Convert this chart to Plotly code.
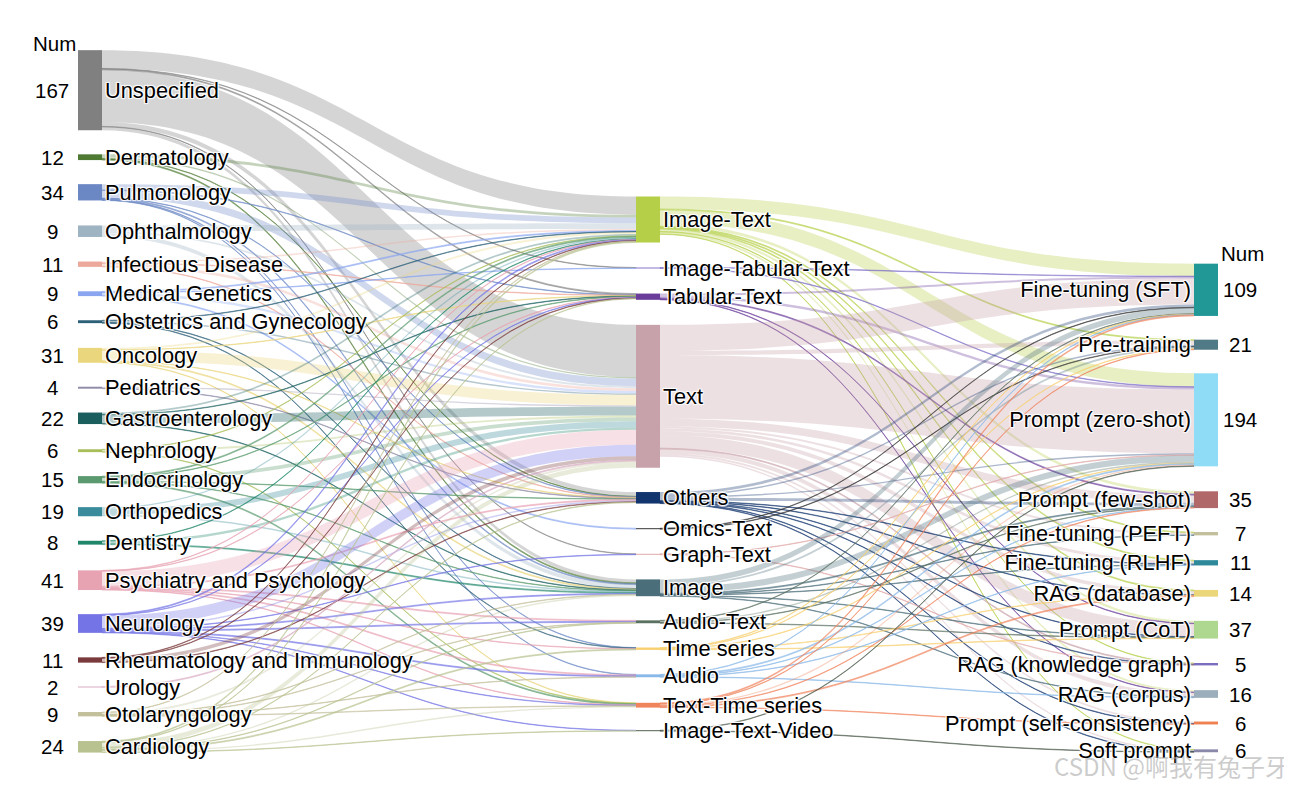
import plotly.graph_objects as go

# ---------------- data ----------------
left_labels = ["Unspecified", "Dermatology", "Pulmonology", "Ophthalmology", "Infectious Disease",
               "Medical Genetics", "Obstetrics and Gynecology", "Oncology", "Pediatrics",
               "Gastroenterology", "Nephrology", "Endocrinology", "Orthopedics", "Dentistry",
               "Psychiatry and Psychology", "Neurology", "Rheumatology and Immunology", "Urology",
               "Otolaryngology", "Cardiology"]
left_nums = [167, 12, 34, 9, 11, 9, 6, 31, 4, 22, 6, 15, 19, 8, 41, 39, 11, 2, 9, 24]

mid_labels = ["Image-Text", "Image-Tabular-Text", "Tabular-Text", "Text", "Others", "Omics-Text",
              "Graph-Text", "Image", "Audio-Text", "Time series", "Audio", "Text-Time series",
              "Image-Text-Video"]

right_labels = ["Fine-tuning (SFT)", "Pre-training", "Prompt (zero-shot)", "Prompt (few-shot)",
                "Fine-tuning (PEFT)", "Fine-tuning (RLHF)", "RAG (database)", "Prompt (CoT)",
                "RAG (knowledge graph)", "RAG (corpus)", "Prompt (self-consistency)", "Soft prompt"]
right_nums = [109, 21, 194, 35, 7, 11, 14, 37, 5, 16, 6, 6]

# flows from each specialty to modalities (order of mid_labels)
unspecified_flow    = [38, 1, 2, 109, 9, 0, 1, 7, 0, 0, 0, 0, 0]
dermatology_flow    = [6, 0, 0, 3, 1, 0, 0, 2, 0, 0, 0, 0, 0]
pulmonology_flow    = [12, 0, 1, 16, 1, 0, 0, 2, 0, 1, 1, 0, 0]
ophthalmology_flow  = [12, 0, 0, 4, 0, 0, 0, 8, 0, 0, 0, 0, 0]
infectious_flow     = [3, 0, 1, 6, 1, 0, 0, 0, 0, 0, 0, 0, 0]
genetics_flow       = [2, 1, 0, 5, 0, 2, 0, 0, 0, 0, 0, 0, 0]
obstetrics_flow     = [1, 0, 0, 3, 0, 0, 0, 1, 0, 1, 0, 0, 0]
oncology_flow       = [4, 0, 1, 22, 1, 0, 0, 2, 0, 0, 0, 1, 0]
pediatrics_flow     = [0, 0, 0, 3, 1, 0, 0, 0, 0, 0, 0, 0, 0]
gastro_flow         = [4, 0, 1, 18, 0, 0, 0, 1, 0, 0, 0, 0, 0]
nephrology_flow     = [1, 0, 0, 4, 0, 0, 0, 0, 0, 0, 0, 1, 0]
endocrinology_flow  = [2, 0, 1, 8, 1, 0, 0, 1, 0, 0, 0, 2, 0]
orthopedics_flow    = [3, 0, 0, 13, 0, 0, 0, 3, 0, 0, 0, 0, 0]
dentistry_flow      = [1, 0, 0, 5, 0, 0, 0, 2, 0, 0, 0, 0, 0]
psychiatry_flow     = [1, 0, 1, 31, 2, 0, 0, 0, 2, 1, 2, 1, 0]
neurology_flow      = [2, 0, 1, 24, 3, 0, 1, 2, 2, 0, 2, 1, 1]
rheumatology_flow   = [1, 0, 1, 8, 1, 0, 0, 0, 0, 0, 0, 0, 0]
urology_flow        = [0, 0, 0, 2, 0, 0, 0, 0, 0, 0, 0, 0, 0]
otolaryngology_flow = [1, 0, 0, 4, 0, 0, 0, 1, 1, 0, 1, 1, 0]
cardiology_flow     = [2, 0, 1, 10, 1, 0, 0, 3, 1, 2, 0, 3, 1]

# flows from each modality to methods (order of right_labels)
image_text_flow       = [26, 2, 28, 6, 2, 2, 2, 5, 1, 4, 0, 1]
image_tab_text_flow   = [1, 0, 1, 0, 0, 0, 0, 0, 0, 0, 0, 0]
tabular_text_flow     = [4, 0, 5, 2, 0, 0, 0, 1, 0, 1, 0, 0]
text_flow             = [54, 9, 133, 16, 4, 6, 8, 27, 2, 9, 4, 3]
others_flow           = [6, 3, 3, 6, 0, 1, 1, 1, 1, 0, 1, 1]
omics_text_flow       = [1, 1, 0, 0, 0, 0, 0, 0, 0, 0, 0, 0]
graph_text_flow       = [0, 0, 1, 0, 0, 0, 0, 0, 1, 0, 0, 0]
image_flow            = [12, 4, 13, 2, 1, 1, 0, 1, 0, 1, 0, 0]
audio_text_flow       = [1, 0, 3, 1, 0, 0, 0, 1, 0, 0, 0, 0]
time_series_flow      = [1, 1, 1, 0, 0, 0, 1, 1, 0, 0, 0, 0]
audio_flow            = [1, 0, 2, 1, 0, 1, 0, 0, 0, 1, 0, 0]
text_time_flow        = [2, 1, 3, 1, 0, 0, 2, 0, 0, 0, 1, 0]
image_text_video_flow = [0, 0, 1, 0, 0, 0, 0, 0, 0, 0, 0, 1]

# ---------------- styles / layout ----------------
left_colors = ["#808080", "#4f7a33", "#6c88c4", "#9eb4c2", "#eca89a", "#8aa6f0", "#2c5f78",
               "#ead67c", "#8e8aa8", "#1a5e5e", "#a8be5a", "#5a9a6e", "#3a8c9c", "#21876a",
               "#e8a3b3", "#7474e6", "#7a3a3c", "#d8a8c0", "#c2c09a", "#b8c290"]
mid_colors = ["#b5cf49", "#8070c8", "#6a3d9a", "#c8a2aa", "#13356e", "#303030", "#e0a8a8",
              "#4a6e7a", "#5a7060", "#f8d070", "#88b8e8", "#f0845c", "#4a5a4a"]
right_colors = ["#219796", "#507a85", "#8fdcf6", "#b06868", "#c2c09c", "#2e8a9a", "#ecd67a",
                "#aed890", "#7a6ec0", "#9aaebc", "#f08050", "#8a88aa"]

# node centre positions, in screenshot pixels
left_y_px = [90.2, 157.2, 192.3, 231.2, 264.2, 293.7, 321.7, 355.3, 387.7, 418.3, 450.7,
             479.7, 511.7, 542.7, 580.2, 623.5, 660.0, 687.0, 714.2, 746.8]
mid_y_px = [219.5, 268.0, 296.7, 396.3, 497.8, 528.7, 554.3, 587.8, 621.8, 648.7, 675.8,
            705.2, 730.7]
right_y_px = [289.8, 344.7, 419.8, 499.7, 533.7, 562.8, 593.3, 629.7, 664.2, 694.0, 723.0, 750.8]
col_x_px = [90.0, 648.0, 1206.0]

PAGE_OFF = 8              # browser body margin
W, H = 1292 - PAGE_OFF, 785 - PAGE_OFF
ML, MR, MT, MB = 70, 74, 32, 30
PW, PH = W - ML - MR, H - MT - MB
KY = 0.469                # pixels per unit of flow


def fx(px):
    return (px - PAGE_OFF - ML) / PW


def fy(py):
    return (py - PAGE_OFF - MT) / PH


def rgba(hexc, a):
    h = hexc.lstrip("#")
    r, g, b = int(h[0:2], 16), int(h[2:4], 16), int(h[4:6], 16)
    return f"rgba({r},{g},{b},{a:.3f})"


def link_alpha(v):
    # thin ribbons get a little more opacity so that they stay visible as lines
    base = 0.33
    return min(0.55, base * max(1.0, 1.5 / (v * KY)))


left_flows = [unspecified_flow, dermatology_flow, pulmonology_flow, ophthalmology_flow,
              infectious_flow, genetics_flow, obstetrics_flow, oncology_flow, pediatrics_flow,
              gastro_flow, nephrology_flow, endocrinology_flow, orthopedics_flow, dentistry_flow,
              psychiatry_flow, neurology_flow, rheumatology_flow, urology_flow,
              otolaryngology_flow, cardiology_flow]
mid_flows = [image_text_flow, image_tab_text_flow, tabular_text_flow, text_flow, others_flow,
             omics_text_flow, graph_text_flow, image_flow, audio_text_flow, time_series_flow,
             audio_flow, text_time_flow, image_text_video_flow]

nL, nM, nR = len(left_labels), len(mid_labels), len(right_labels)
labels = left_labels + mid_labels + right_labels
colors = left_colors + mid_colors + right_colors
node_x = [fx(col_x_px[0])] * nL + [fx(col_x_px[1])] * nM + [fx(col_x_px[2])] * nR
node_y = [fy(v) for v in left_y_px + mid_y_px + right_y_px]

src, tgt, val, lcol = [], [], [], []
for i, row in enumerate(left_flows):
    for j, v in enumerate(row):
        if v > 0:
            src.append(i)
            tgt.append(nL + j)
            val.append(v)
            lcol.append(rgba(left_colors[i], link_alpha(v)))
for i, row in enumerate(mid_flows):
    for j, v in enumerate(row):
        if v > 0:
            src.append(nL + i)
            tgt.append(nL + nM + j)
            val.append(v)
            lcol.append(rgba(mid_colors[i], link_alpha(v)))

left_total = sum(sum(r) for r in left_flows)
pad = (PH - KY * left_total) / (nL - 1)

fig = go.Figure(go.Sankey(
    arrangement="fixed",
    node=dict(label=labels, color=colors, x=node_x, y=node_y, pad=pad, thickness=24,
              line=dict(width=0)),
    link=dict(source=src, target=tgt, value=val, color=lcol),
    textfont=dict(family="Liberation Sans, Arial, sans-serif", size=21.8, color="black"),
))

ann = []
num_font = dict(family="Liberation Sans, Arial, sans-serif", size=20.5, color="black")
left_num_x = fx(52)
right_num_x = fx(1240)
ann.append(dict(text="Num", x=fx(54), y=1 - fy(43), xref="paper", yref="paper",
                showarrow=False, font=num_font, xanchor="center", yanchor="middle"))
for n, yy in zip(left_nums, left_y_px):
    ann.append(dict(text=str(n), x=left_num_x, y=1 - fy(yy), xref="paper", yref="paper",
                    showarrow=False, font=num_font, xanchor="center", yanchor="middle"))
ann.append(dict(text="Num", x=fx(1242), y=1 - fy(254), xref="paper", yref="paper",
                showarrow=False, font=num_font, xanchor="center", yanchor="middle"))
for n, yy in zip(right_nums, right_y_px):
    ann.append(dict(text=str(n), x=right_num_x, y=1 - fy(yy), xref="paper", yref="paper",
                    showarrow=False, font=num_font, xanchor="center", yanchor="middle"))
ann.append(dict(text="CSDN @啊我有兔子牙", x=fx(1291), y=1 - fy(765), xref="paper", yref="paper",
                showarrow=False, xanchor="right", yanchor="middle",
                font=dict(family="Noto Sans CJK SC, Liberation Sans", size=24,
                          color="rgba(170,170,170,0.6)")))

fig.update_layout(width=W, height=H, margin=dict(l=ML, r=MR, t=MT, b=MB),
                  paper_bgcolor="white", plot_bgcolor="white", annotations=ann)

fig.write_html("out.html")
